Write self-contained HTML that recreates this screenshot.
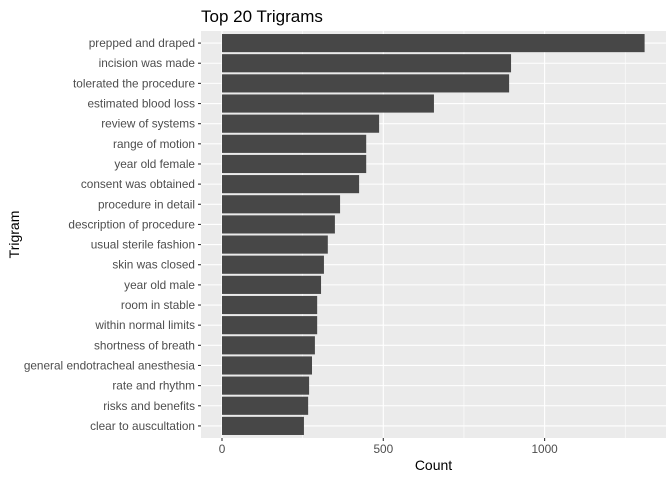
<!DOCTYPE html>
<html><head><meta charset="utf-8"><style>body{margin:0;background:#fff}svg{display:block;font-family:"Liberation Sans",Arial,sans-serif}</style></head>
<body>
<svg id="c" width="672" height="480"></svg>
<script>
const categories=["prepped and draped","incision was made","tolerated the procedure","estimated blood loss","review of systems","range of motion","year old female","consent was obtained","procedure in detail","description of procedure","usual sterile fashion","skin was closed","year old male","room in stable","within normal limits","shortness of breath","general endotracheal anesthesia","rate and rhythm","risks and benefits","clear to auscultation"];
const counts=[1310,896,890,657,487,447,447,425,366,350,328,316,307,295,295,288,279,270,267,254];
const xTicks=[0,500,1000];
const xMinor=[250,750,1250];
const NS="http://www.w3.org/2000/svg";
const svg=document.getElementById('c');
const L=201,R=666,T=31,B=438;
const x0=222,k=(383.3-222)/500;
const X=v=>x0+v*k;
const step=(B-T)/(categories.length+0.2);
const Y=i=>T+step*(0.6+i);
function el(t,a,p){const e=document.createElementNS(NS,t);for(const n in a)e.setAttribute(n,a[n]);(p||svg).appendChild(e);return e;}
const panel=el('rect',{x:L,y:T,width:R-L,height:B-T,fill:'#ebebeb'});


xMinor.forEach(v=>{const g=el('line',{x1:X(v),x2:X(v),y1:T,y2:B,stroke:'#fff','stroke-width':0.55});

});
xTicks.forEach(v=>{const g=el('line',{x1:X(v),x2:X(v),y1:T,y2:B,stroke:'#fff','stroke-width':1.1});

});
categories.forEach((c,i)=>{const y=Y(i);
const g=el('line',{x1:L,x2:R,y1:y,y2:y,stroke:'#fff','stroke-width':1.1});

});
categories.forEach((c,i)=>{const y=Y(i),h=step*0.9;
const b=el('rect',{x:X(0),y:y-h/2,width:X(counts[i])-X(0),height:h,fill:'#474747'});


const tk=el('line',{x1:L-3,x2:L,y1:y,y2:y,stroke:'#333','stroke-width':1.1});


const t=el('text',{x:L-6,y:y+4,'text-anchor':'end','font-size':11.8,fill:'#4d4d4d'});t.textContent=c;

});
xTicks.forEach(v=>{const tk=el('line',{x1:X(v),x2:X(v),y1:B,y2:B+3,stroke:'#333','stroke-width':1.1});


const t=el('text',{x:X(v),y:B+15,'text-anchor':'middle','font-size':11.8,fill:'#4d4d4d'});t.textContent=v;

});
const xt=el('text',{x:(L+R)/2,y:470,'text-anchor':'middle','font-size':14,fill:'#000'});xt.textContent='Count';


const yt=el('text',{x:0,y:0,'text-anchor':'middle','font-size':14,fill:'#000',transform:`translate(19,${(T+B)/2}) rotate(-90)`});yt.textContent='Trigram';


const tt=el('text',{x:201,y:22,'font-size':17,fill:'#000'});tt.textContent='Top 20 Trigrams';


</script>
</body></html>
